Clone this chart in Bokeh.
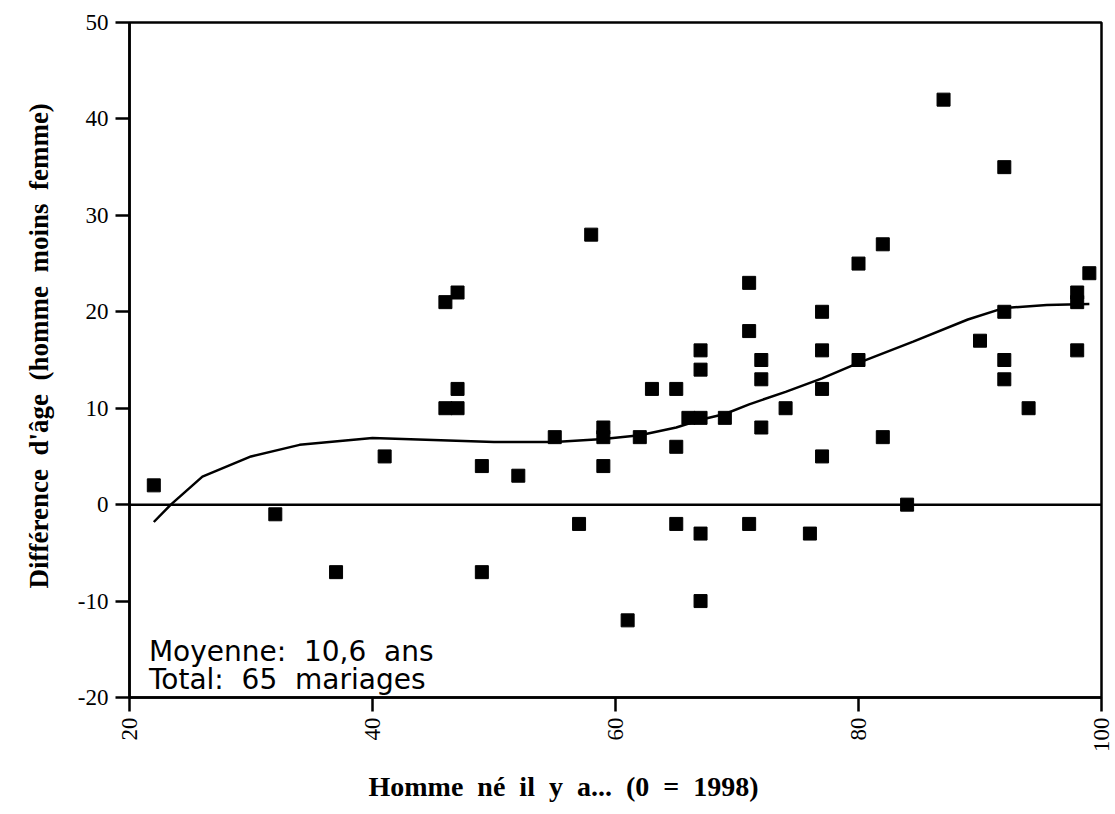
import math
from bokeh.plotting import figure
from bokeh.models import Range1d, Span, Label, FixedTicker, ColumnDataSource, Title
from bokeh.embed import file_html
from bokeh.resources import INLINE

# Scatter data: men born X years ago (0 = 1998) vs age difference (man minus woman)
born_ago = [22, 32, 37, 41, 46, 47, 46, 47, 47, 49, 49, 52, 55, 57, 58, 59, 59, 59,
            61, 62, 63, 65, 65, 65, 66, 67, 67, 67, 67, 67, 69, 71, 71, 71, 72, 72,
            72, 74, 76, 77, 77, 77, 77, 80, 80, 82, 82, 84, 87, 90, 92, 92, 92, 92,
            94, 98, 98, 98, 99]
age_diff = [2, -1, -7, 5, 21, 22, 10, 10, 12, 4, -7, 3, 7, -2, 28, 8, 7, 4,
            -12, 7, 12, 12, 6, -2, 9, 9, 14, 16, -3, -10, 9, 23, 18, -2, 15, 13,
            8, 10, -3, 20, 16, 12, 5, 25, 15, 27, 7, 0, 42, 17, 35, 20, 15, 13,
            10, 22, 21, 16, 24]

# Smoothed trend curve
trend_x = [22, 23.4, 26, 30, 34, 40, 45, 50, 55, 59, 62, 65, 67, 69, 71, 74, 77,
           80, 84.5, 89, 92, 95.5, 99]
trend_y = [-1.8, 0, 2.9, 5.0, 6.2, 6.9, 6.7, 6.5, 6.5, 6.8, 7.2, 8.0, 8.8, 9.4,
           10.4, 11.7, 13.1, 14.7, 16.9, 19.2, 20.4, 20.7, 20.8]

x_ticks = [20, 40, 60, 80, 100]
y_ticks = [-20, -10, 0, 10, 20, 30, 40, 50]
y_tick_labels = ["-20", "-10", "0", "10", "20", "30", "40", "50"]

NB = "\u00a0"
x_title = f"Homme{NB} né{NB} il{NB} y{NB} a...{NB} (0{NB} ={NB} 1998)"
y_title = f"Différence{NB} d'âge{NB} (homme{NB} moins{NB} femme)"
note_lines = [f"Moyenne:{NB} 10,6{NB} ans", f"Total:{NB} 65{NB} mariages"]

SERIF = "Liberation Serif"

p = figure(width=1115, height=814, output_backend="svg", toolbar_location=None,
           x_range=Range1d(20, 100), y_range=Range1d(-20, 50),
           min_border_left=129, min_border_right=14, min_border_top=22,
           min_border_bottom=117)

p.background_fill_color = "white"
p.border_fill_color = "white"
p.outline_line_color = "black"
p.outline_line_width = 2.5
p.xgrid.visible = False
p.ygrid.visible = False

for ax in (p.xaxis[0], p.yaxis[0]):
    ax.axis_line_color = "black"
    ax.axis_line_width = 2.5
    ax.major_tick_line_color = "black"
    ax.major_tick_line_width = 2.5
    ax.major_tick_out = 14
    ax.major_tick_in = 0
    ax.minor_tick_line_color = None
    ax.major_label_text_font = SERIF
    ax.major_label_text_font_size = "23px"
    ax.major_label_text_color = "black"

p.xaxis[0].ticker = FixedTicker(ticks=x_ticks)
p.yaxis[0].ticker = FixedTicker(ticks=y_ticks)
p.yaxis[0].major_label_overrides = {t: s for t, s in zip(y_ticks, y_tick_labels)}
p.xaxis[0].major_label_orientation = math.pi / 2
p.xaxis[0].major_label_standoff = 6
p.yaxis[0].major_label_standoff = 7

# axis titles as side titles (allow exact offset along the axis)
p.add_layout(Title(text=x_title, align="left", offset=239, standoff=26,
                   text_font=SERIF, text_font_size="28px", text_font_style="bold",
                   text_color="black"), "below")
p.add_layout(Title(text=y_title, align="left", offset=109, standoff=41,
                   text_font=SERIF, text_font_size="27px", text_font_style="bold",
                   text_color="black"), "left")

# zero line
p.add_layout(Span(location=0, dimension="width", line_color="black", line_width=2.5))

src = ColumnDataSource(dict(x=born_ago, y=age_diff))
p.scatter("x", "y", source=src, marker="square", size=13,
          fill_color="black", line_color="black")

p.line(trend_x, trend_y, line_color="black", line_width=2.5)

# annotation
p.add_layout(Label(x=21.6, y=-15.2, text=note_lines[0], text_font="DejaVu Sans",
                   text_font_size="28px", text_color="black", text_baseline="alphabetic"))
p.add_layout(Label(x=21.6, y=-18.15, text=note_lines[1], text_font="DejaVu Sans",
                   text_font_size="28px", text_color="black", text_baseline="alphabetic"))

open("out.html", "w").write(file_html(p, INLINE))
